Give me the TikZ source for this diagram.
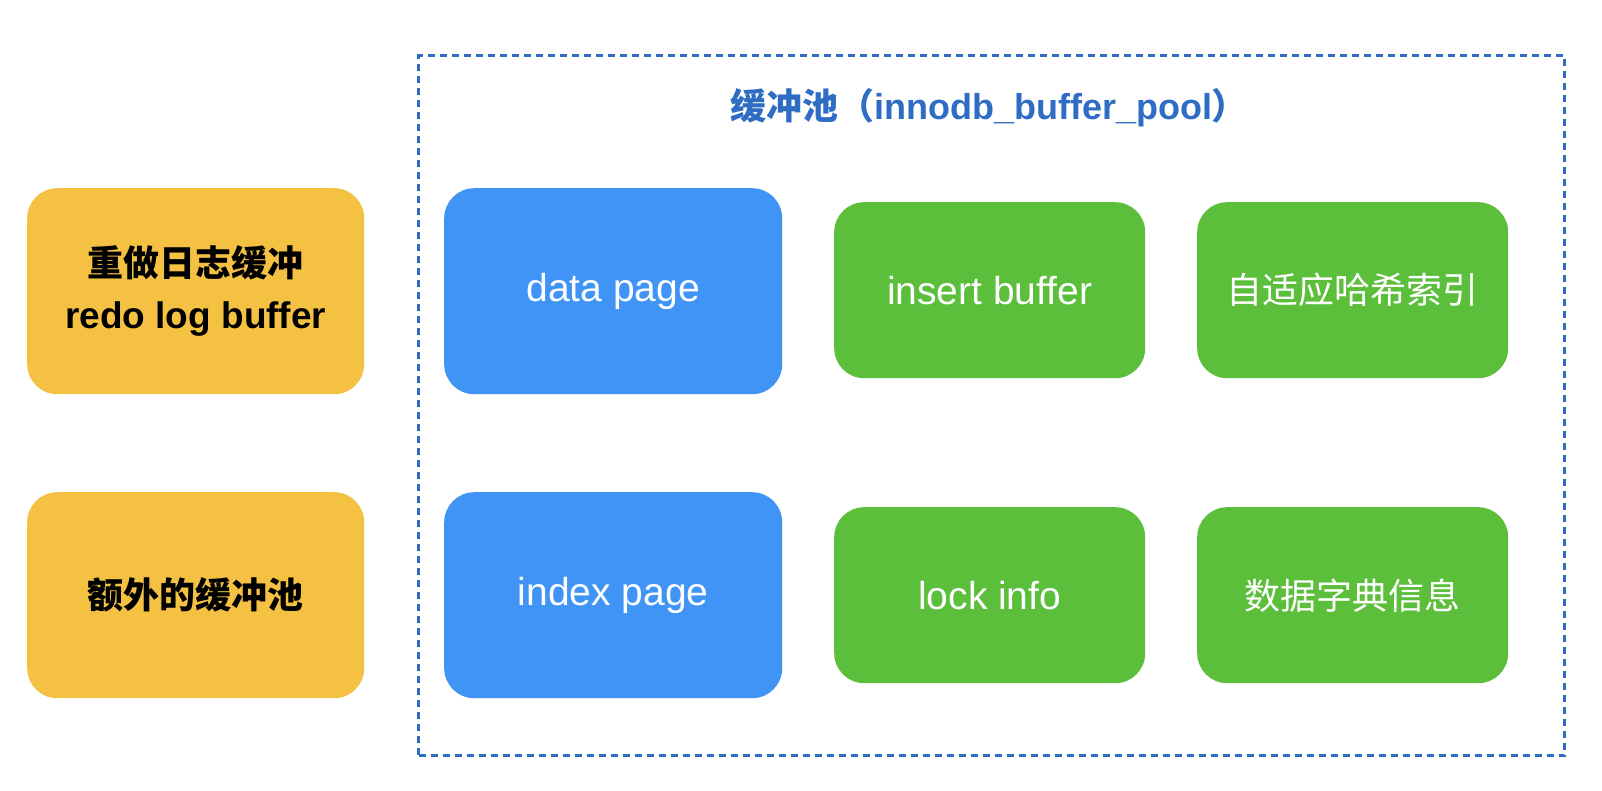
\documentclass[tikz,border=0pt]{standalone}
\usepackage{fontspec}
\setmainfont{Liberation Sans}
\newfontfamily\cjk{Noto Sans CJK SC}
\definecolor{yfill}{HTML}{F4C142}
\definecolor{bfill}{HTML}{4094F6}
\definecolor{gfill}{HTML}{5BBF3B}
\definecolor{framec}{HTML}{2E6DC3}
\begin{document}
\begin{tikzpicture}[x=1pt,y=-1pt,
  box/.style={rounded corners=30pt, inner sep=0pt, anchor=north west, align=center,
    font=\fontsize{39}{52}\selectfont},
  ybox/.style={box, fill=yfill, text=black, minimum width=337pt, minimum height=206pt},
  bbox/.style={box, fill=bfill, text=white, minimum width=338pt, minimum height=206pt},
  gbox/.style={box, fill=gfill, text=white, minimum width=311pt, minimum height=176pt},
  poolframe/.style={draw=framec, line width=3pt, dash pattern=on 7pt off 5pt, anchor=north west,
    inner sep=0pt, minimum width=1146pt, minimum height=700pt},
  pooltitle/.style={text=framec, font=\fontsize{36}{40}\selectfont\bfseries, inner sep=0pt}]
\useasboundingbox[fill=white] (0,0) rectangle (1602,790);
\node[poolframe] (pool) at (417,54) {};
\node[pooltitle] (ttl) at (989,108) {{\cjk\bfseries 缓冲池（}innodb\_buffer\_pool{\cjk\bfseries ）}};
\node[ybox] (redo) at (27,188) {{\fontsize{36}{52}\selectfont\cjk\bfseries 重做日志缓冲}\\ \fontsize{37}{52}\selectfont\bfseries redo log buffer};
\node[ybox] (extra) at (27,492) {\fontsize{36}{52}\selectfont\cjk\bfseries 额外的缓冲池};
\node[bbox] (data) at (444,188) {\raisebox{-2pt}{data page}};
\node[bbox] (index) at (444,492) {\raisebox{-2pt}{index page}};
\node[gbox] (insert) at (834,202) {insert buffer};
\node[gbox] (hash) at (1197,202) {\fontsize{36}{52}\selectfont\cjk 自适应哈希索引};
\node[gbox] (lock) at (834,507) {lock info};
\node[gbox] (dict) at (1197,507) {\fontsize{36}{52}\selectfont\cjk 数据字典信息};
\end{tikzpicture}
\end{document}
